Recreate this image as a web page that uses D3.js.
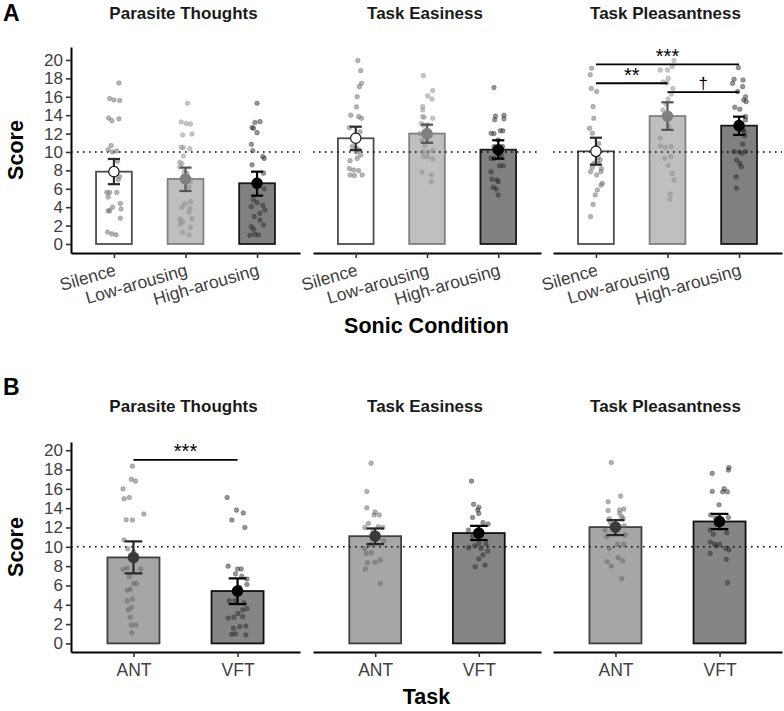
<!DOCTYPE html>
<html>
<head>
<meta charset="utf-8">
<script src="https://cdn.jsdelivr.net/npm/d3@7/dist/d3.min.js"></script>
<style>
body { margin: 0; background: #fff; }
svg text { font-family: "Liberation Sans", Arial, sans-serif; }
</style>
</head>
<body>
<div id="chart"></div>
<script>
// ---- data ----
var facetTitles = ["Parasite Thoughts", "Task Easiness", "Task Pleasantness"];
var sonicConditions = ["Silence", "Low-arousing", "High-arousing"];
var tasks = ["ANT", "VFT"];
var scoreTicks = [0, 2, 4, 6, 8, 10, 12, 14, 16, 18, 20];
var chanceLevel = 10;

// panel A : mean and error bar limits, one row per facet
var sonicMean = [[7.86, 7.07, 6.6], [11.49, 12.0, 10.25], [10.07, 13.9, 12.86]];
var sonicLow = [[6.5, 5.76, 5.25], [10.2, 11.0, 9.27], [8.62, 12.4, 11.85]];
var sonicHigh = [[9.24, 8.3, 7.86], [12.75, 12.97, 11.27], [11.55, 15.4, 13.84]];

// panel B
var taskMean = [[8.9, 5.42], [11.1, 11.42], [12.04, 12.62]];
var taskLow = [[7.25, 4.07], [10.28, 10.7], [11.21, 11.83]];
var taskHigh = [[10.56, 6.73], [11.9, 12.17], [12.76, 13.41]];

// individual scores: [jitter (category units), score]
var ptSilence = [[.07,17.5],[-.06,15.8],[0,15.65],[.08,15.6],[-.075,13.7],[-.03,13.4],[.07,13.6],[-.04,10.7],[-.08,10.25],[-.02,10.0],[.04,10.1],[.05,9.0],[.03,7.7],[.08,7.3],[.06,7.0],[-.1,5.6],[-.06,5.6],[.04,5.6],[-.08,5.1],[.09,4.4],[-.02,4.0],[-.06,3.6],[-.08,3.6],[.1,3.8],[.09,2.8],[-.09,1.3],[-.03,1.1],[.03,1.0]];
var ptLow = [[.03,15.3],[-.06,13.26],[.01,13.1],[.07,13.04],[-.04,11.85],[.09,11.96],[-.06,10.5],[-.03,10.47],[.06,10.36],[-.03,9.57],[-.08,8.88],[-.05,8.73],[-.08,8.4],[-.02,7.86],[.02,7.68],[.07,6.8],[.05,6.2],[.07,4.6],[-.01,4.4],[-.05,4.0],[.06,3.88],[.05,3.44],[-.08,2.7],[.09,2.75],[-.04,2.43],[-.07,2.17],[.07,1.78],[-.04,1.27],[.05,0.98]];
var ptHigh = [[0,15.3],[-.03,13.2],[.04,13.3],[-.07,12.65],[-.05,12.57],[0,12.1],[-.08,10.83],[-.06,10.14],[.08,9.5],[.1,9.3],[-.07,8.6],[.09,7.7],[.1,6.0],[-.05,4.8],[0,4.5],[.08,4.2],[-.08,4.06],[.11,3.7],[.04,3.33],[-.04,2.97],[.04,2.6],[.09,2.07],[-.08,1.88],[-.05,1.6],[-.03,1.05],[.02,0.98],[-.1,0.94]];
var teSilence = [[.03,19.93],[.07,18.84],[.08,17.46],[.05,17.1],[.02,16.0],[.01,14.9],[-.07,14.0],[.04,13.84],[.08,13.66],[-.09,12.64],[.06,12.2],[-.02,11.5],[-.05,10.6],[.01,10.4],[.05,10.2],[.01,10.0],[.07,9.67],[.02,9.3],[-.08,9.06],[-.09,8.2],[-.03,8.04],[.04,7.97],[-.08,7.5],[-.02,7.43],[.09,7.5]];
var teLow = [[-.05,18.3],[.08,16.67],[.01,16.1],[.07,15.76],[-.06,14.93],[-.06,14.57],[-.06,13.84],[-.04,13.77],[.08,13.66],[-.08,13.1],[-.05,12.9],[.01,12.95],[-.1,12.0],[.05,11.8],[0,11.5],[-.07,11.3],[-.03,10.7],[-.06,10.0],[.01,10.0],[.08,10.14],[-.05,9.5],[.01,9.5],[.08,9.24],[-.07,7.8],[.06,7.5],[.06,6.78]];
var teHigh = [[-.06,17.0],[-.04,13.9],[.08,14.0],[.08,13.6],[-.05,13.5],[.03,12.3],[.065,12.3],[-.1,12.03],[-.06,12.0],[0,11.3],[-.06,10.58],[.06,10.6],[0,9.75],[.04,9.6],[-.06,9.3],[-.1,9.31],[.07,8.5],[.02,8.5],[-.1,7.86],[-.02,6.96],[-.09,7.03],[0,6.78],[-.07,6.16],[-.03,5.98],[0,5.33]];
var tpSilence = [[-.06,19.1],[-.08,18.4],[-.065,16.9],[.01,16.56],[-.04,14.93],[-.03,13.66],[-.09,12.57],[-.05,12.03],[.04,10.9],[.03,9.4],[.06,9.13],[.03,8.77],[-.03,8.77],[-.05,8.33],[.075,8.2],[.07,7.86],[-.075,7.86],[.01,7.5],[.09,6.6],[.07,6.4],[.02,5.87],[-.01,5.33],[-.04,4.3],[-.075,2.97]];
var tpLow = [[.09,19.93],[-.1,18.9],[0,18.9],[.065,19.3],[.01,18.0],[-.06,17.6],[-.01,17.5],[.075,16.9],[.055,16.3],[.01,15.76],[-.02,15.2],[-.065,14.57],[.02,12.75],[-.1,11.5],[-.1,10.65],[-.03,10.5],[.05,10.58],[.045,9.5],[-.04,9.3],[.01,8.55],[.065,7.68],[.09,6.96],[.04,5.43],[.03,4.86]];
var tpHigh = [[-.01,19.17],[-.07,17.9],[.055,17.83],[-.09,17.46],[.05,17.1],[-.02,16.56],[.09,16.0],[.065,15.65],[.1,15.47],[-.06,14.86],[.01,14.64],[.09,13.84],[.09,13.48],[.055,12.4],[.07,12.2],[.08,11.78],[.05,10.87],[-.07,10.04],[0,10.0],[.09,10.04],[.04,9.86],[-.035,9.13],[.01,8.77],[.03,8.4],[-.04,7.3],[-.035,6.05]];

var ptANT = [[-.01,18.35],[-.02,17.0],[.02,16.8],[-.1,16.0],[-.09,14.97],[-.04,15.1],[.1,13.4],[-.07,12.8],[-.01,12.77],[-.09,10.7],[-.055,9.8],[0,9.5],[.02,8.6],[-.1,7.67],[-.06,7.8],[.07,7.7],[-.04,6.9],[0,6.2],[.03,6.2],[-.06,5.5],[-.03,5.6],[-.06,4.4],[-.01,4.6],[-.05,3.46],[-.02,3.7],[-.03,2.7],[.025,1.9],[-.02,1.9],[-.015,1.1]];
var ptVFT = [[-.1,15.1],[-.01,13.8],[.055,13.5],[-.055,12.77],[.07,12.0],[-.09,8.0],[0,7.7],[.035,7.7],[-.02,7.2],[.04,6.94],[.09,6.67],[.09,6.1],[.02,5.8],[-.08,4.4],[-.025,4.4],[.06,4.2],[.05,3.46],[.09,3.6],[.005,3.1],[-.09,2.63],[-.035,2.7],[.05,2.77],[-.04,1.56],[.02,1.73],[.08,1.8],[-.055,0.94],[.08,0.87],[-.02,1.0]];
var teANT = [[-.04,18.66],[-.08,15.73],[-.08,14.04],[0,13.6],[-.01,13.3],[.04,13.3],[-.065,12.42],[.03,12.08],[-.1,12.0],[.075,12.0],[-.02,11.56],[-.03,10.9],[.08,10.6],[-.045,10.25],[-.1,9.8],[-.035,9.4],[-.085,9.3],[.05,8.63],[0,8.4],[-.075,8.35],[-.095,7.7],[.05,6.2]];
var teVFT = [[-.07,16.8],[-.05,14.4],[0,14.1],[-.01,13.8],[0,13.46],[-.06,13.04],[.04,12.5],[.09,12.35],[-.1,11.73],[-.06,11.1],[0,10.35],[-.1,9.9],[-.04,10.1],[.02,9.84],[.07,10.3],[.085,9.56],[.04,9.15],[0,8.74],[-.035,7.94],[.06,8.1]];
var tpANT = [[-.04,18.73],[-.07,14.66],[.05,15.25],[-.07,13.76],[.04,13.8],[.08,13.9],[.04,13.45],[.06,13.1],[-.06,12.9],[.075,12.9],[-.05,12.5],[.085,12.17],[-.1,11.73],[.095,11.24],[-.085,11.04],[.02,10.25],[.08,10.25],[-.06,9.84],[-.08,8.46],[.025,8.87],[.07,8.56],[-.04,8.0],[.06,6.7]];
var tpVFT = [[.09,18.2],[.085,17.94],[-.07,17.6],[-.07,15.73],[.045,16.0],[.03,15.7],[.075,15.7],[-.005,14.35],[-.085,13.3],[.085,13.04],[-.04,13.0],[-.03,12.3],[-.09,11.73],[-.06,11.3],[.07,11.45],[-.09,10.49],[-.05,10.28],[0,10.25],[-.03,10.1],[.06,9.84],[.09,9.67],[-.09,9.32],[.065,8.7],[.075,6.28]];

var sonicPoints = [[ptSilence, ptLow, ptHigh], [teSilence, teLow, teHigh], [tpSilence, tpLow, tpHigh]];
var taskPoints = [[ptANT, ptVFT], [teANT, teVFT], [tpANT, tpVFT]];

// significance brackets: facet, from, to, score height, label
var sonicSig = [[2, 0, 2, 19.53, "***"], [2, 0, 1, 17.47, "**"], [2, 1, 2, 16.5, "\u2020"]];
var taskSig = [[0, 0, 1, 19.0, "***"]];

// ---- styles ----
var sonicStyle = [
	{ fill: "#ffffff", stroke: "#4d4d4d", dot: "#6a6a6a", meanFill: "#ffffff", meanStroke: "#1a1a1a", err: "#2a2a2a" },
	{ fill: "#bfbfbf", stroke: "#808080", dot: "#8c8c8c", meanFill: "#808080", meanStroke: "#808080", err: "#555555" },
	{ fill: "#808080", stroke: "#1a1a1a", dot: "#2d2d2d", meanFill: "#000000", meanStroke: "#000000", err: "#000000" }
];
var taskStyle = [
	{ fill: "#a6a6a6", stroke: "#404040", dot: "#666666", meanFill: "#3a3a3a", meanStroke: "#3a3a3a", err: "#262626" },
	{ fill: "#858585", stroke: "#111111", dot: "#2d2d2d", meanFill: "#000000", meanStroke: "#000000", err: "#000000" }
];

var facetX = [[71, 300], [313, 541], [553, 782]];

var svg = d3.select("#chart").append("svg").attr("width", 784).attr("height", 711);

function drawRow(cfg) {
	var y = cfg.y;
	var y0 = cfg.axisY;

	// panel letter
	svg.append("text").attr("x", 3).attr("y", cfg.letterY).text(cfg.letter)
		.attr("font-size", 23).attr("font-weight", "bold").attr("fill", "#000");

	for (var f = 0; f < 3; f++) {
		var x = d3.scalePoint().domain(cfg.cats).range(facetX[f]).padding(0.6);
		var step = x.step();
		var g = svg.append("g");
		var means = cfg.means[f], lows = cfg.lows[f], highs = cfg.highs[f];

		// facet title
		svg.append("text").attr("x", (facetX[f][0] + facetX[f][1]) / 2 - 2).attr("y", cfg.titleY)
			.attr("text-anchor", "middle").attr("font-size", 17).attr("font-weight", "bold")
			.attr("fill", "#1a1a1a").text(facetTitles[f]);

		// bars
		g.selectAll("rect.bar").data(cfg.cats).join("rect").attr("class", "bar")
			.attr("x", function(c) { return x(c) - step * 0.25; })
			.attr("y", function(c, i) { return y(means[i]); })
			.attr("width", step * 0.5)
			.attr("height", function(c, i) { return y(0) - y(means[i]); })
			.attr("fill", function(c, i) { return cfg.styles[i].fill; })
			.attr("stroke", function(c, i) { return cfg.styles[i].stroke; })
			.attr("stroke-width", 1.8);

		// reference line
		g.append("line").attr("x1", facetX[f][0]).attr("x2", facetX[f][1])
			.attr("y1", y(chanceLevel)).attr("y2", y(chanceLevel))
			.attr("stroke", "#000").attr("stroke-width", 1.6).attr("stroke-dasharray", "1.6,4.4");

		// individual points
		cfg.cats.forEach(function(c, i) {
			g.append("g").selectAll("circle").data(cfg.points[f][i]).join("circle")
				.attr("cx", function(d) { return x(c) + d[0] * step; })
				.attr("cy", function(d) { return y(d[1]); })
				.attr("r", 2.3)
				.attr("fill", cfg.styles[i].dot).attr("fill-opacity", 0.5)
				.attr("stroke", cfg.styles[i].dot).attr("stroke-opacity", 0.45).attr("stroke-width", 0.8);
		});

		// error bars
		cfg.cats.forEach(function(c, i) {
			var cx = x(c), hw = step * 0.085;
			var eg = g.append("g").attr("stroke", cfg.styles[i].err).attr("stroke-width", 2.2);
			eg.append("line").attr("x1", cx).attr("x2", cx).attr("y1", y(lows[i])).attr("y2", y(highs[i]));
			eg.append("line").attr("x1", cx - hw).attr("x2", cx + hw).attr("y1", y(lows[i])).attr("y2", y(lows[i]));
			eg.append("line").attr("x1", cx - hw).attr("x2", cx + hw).attr("y1", y(highs[i])).attr("y2", y(highs[i]));
		});

		// means
		g.selectAll("circle.mean").data(cfg.cats).join("circle").attr("class", "mean")
			.attr("cx", function(c) { return x(c); })
			.attr("cy", function(c, i) { return y(means[i]); })
			.attr("r", 5.2)
			.attr("fill", function(c, i) { return cfg.styles[i].meanFill; })
			.attr("stroke", function(c, i) { return cfg.styles[i].meanStroke; })
			.attr("stroke-width", 1.2);

		// significance brackets
		cfg.sig.filter(function(s) { return s[0] === f; }).forEach(function(s) {
			var xa = x(cfg.cats[s[1]]), xb = x(cfg.cats[s[2]]);
			var dagger = s[4] === "\u2020";
			g.append("line").attr("x1", xa).attr("x2", xb).attr("y1", y(s[3])).attr("y2", y(s[3]))
				.attr("stroke", "#000").attr("stroke-width", 1.8);
			g.append("text").attr("x", (xa + xb) / 2).attr("y", y(s[3]) - (dagger ? 3 : 1.5))
				.attr("text-anchor", "middle").attr("font-size", dagger ? 17 : 20)
				.attr("fill", "#000").text(s[4]);
		});

		// x axis
		var xa = svg.append("g").attr("transform", "translate(0," + y0 + ")")
			.call(d3.axisBottom(x).tickSize(5).tickSizeOuter(0).tickPadding(7));
		xa.select(".domain").attr("stroke", "#000").attr("stroke-width", 2);
		xa.selectAll(".tick line").attr("stroke", "#333").attr("stroke-width", 1.6);
		xa.selectAll(".tick text").attr("font-size", 17.5).attr("fill", "#404040")
			.attr("font-family", "Liberation Sans, Arial, sans-serif");
		if (cfg.rotate) {
			xa.selectAll(".tick text").attr("text-anchor", "end").attr("x", -1).attr("y", 10)
				.attr("dy", "0.72em").attr("transform", "rotate(-16,-1,10)");
		}

		// y axis (first facet only)
		if (f === 0) {
			var ya = svg.append("g").attr("transform", "translate(" + facetX[0][0] + ",0)")
				.call(d3.axisLeft(y).tickValues(scoreTicks).tickSize(5).tickSizeOuter(0).tickPadding(3));
			ya.select(".domain").attr("stroke", "#000").attr("stroke-width", 2);
			ya.selectAll(".tick line").attr("stroke", "#333").attr("stroke-width", 1.6);
			ya.selectAll(".tick text").attr("font-size", 17).attr("fill", "#404040")
				.attr("font-family", "Liberation Sans, Arial, sans-serif");
		}
	}

	// axis titles
	svg.append("text").attr("transform", "translate(23," + cfg.scoreY + ") rotate(-90)")
		.attr("text-anchor", "middle").attr("font-size", 21.5).attr("font-weight", "bold")
		.attr("fill", "#000").text("Score");
	svg.append("text").attr("x", (facetX[0][0] + facetX[2][1]) / 2).attr("y", cfg.xTitleY)
		.attr("text-anchor", "middle").attr("font-size", 21.5).attr("font-weight", "bold")
		.attr("fill", "#000").text(cfg.xTitle);
}

// panel A
drawRow({
	letter: "A", letterY: 21, titleY: 19,
	y: d3.scaleLinear().domain([-0.98, 21.41]).range([253, 47]),
	axisY: 253, cats: sonicConditions,
	means: sonicMean, lows: sonicLow, highs: sonicHigh, points: sonicPoints,
	styles: sonicStyle, sig: sonicSig, rotate: true,
	xTitle: "Sonic Condition", xTitleY: 333, scoreY: 150
});

// panel B
drawRow({
	letter: "B", letterY: 395, titleY: 412,
	y: d3.scaleLinear().domain([-0.89, 20.85]).range([652, 442]),
	axisY: 652, cats: tasks,
	means: taskMean, lows: taskLow, highs: taskHigh, points: taskPoints,
	styles: taskStyle, sig: taskSig, rotate: false,
	xTitle: "Task", xTitleY: 704, scoreY: 547
});
</script>
</body>
</html>
